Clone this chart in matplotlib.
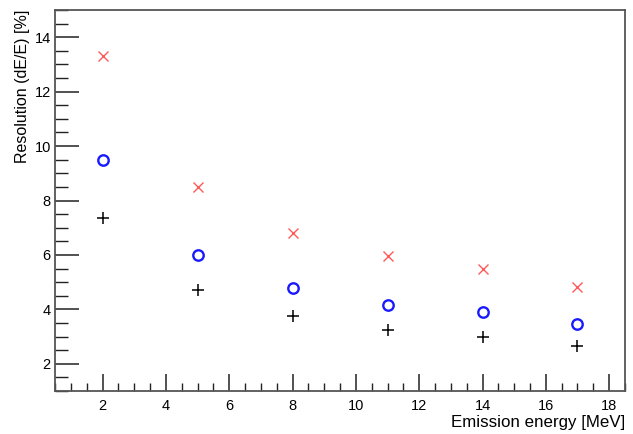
import matplotlib
matplotlib.use("Agg")
import matplotlib.pyplot as plt
from matplotlib.ticker import MultipleLocator

energy = [2, 5, 8, 11, 14, 17]
res_red = [13.3, 8.5, 6.8, 5.95, 5.5, 4.82]
res_blue = [9.5, 6.0, 4.8, 4.15, 3.92, 3.45]
res_black = [7.35, 4.7, 3.75, 3.25, 3.0, 2.66]

plt.rcParams['font.family'] = ['Liberation Sans', 'DejaVu Sans']

fig = plt.figure(figsize=(6.33, 4.34), dpi=100)
ax = fig.add_axes([55/633, 43/434, 570/633, 381/434])

ax.plot(energy, res_red, linestyle='none', marker='x', color='#ff5a5a', ms=7, mew=1.0)
ax.plot(energy, res_blue, linestyle='none', marker='o', mfc='none', mec='#1a1aff', ms=7.5, mew=1.7)
ax.plot(energy, res_black, linestyle='none', marker='+', color='black', ms=9, mew=1.1)

ax.set_xlim(0.5, 18.5)
ax.set_ylim(1.0, 15.0)
ax.xaxis.set_major_locator(MultipleLocator(2))
ax.xaxis.set_minor_locator(MultipleLocator(0.5))
ax.yaxis.set_major_locator(MultipleLocator(2))
ax.yaxis.set_minor_locator(MultipleLocator(0.5))

ax.tick_params(axis='both', which='both', direction='in', top=False, right=False,
               color='#222222', labelsize=10.5)
ax.tick_params(axis='y', which='major', length=17, width=1.1, pad=3)
ax.tick_params(axis='y', which='minor', length=9, width=1.0)
ax.tick_params(axis='x', which='major', length=12, width=1.1, pad=6)
ax.tick_params(axis='x', which='minor', length=6, width=1.0)

for s in ax.spines.values():
    s.set_color('#555555')
    s.set_linewidth(1.3)

ax.set_xlabel('Emission energy [MeV]', fontsize=12.2, loc='right', labelpad=1)
ax.set_ylabel('Resolution (dE/E) [%]', fontsize=11.5, loc='top', labelpad=3)

fig.savefig('out.png', dpi=100)
